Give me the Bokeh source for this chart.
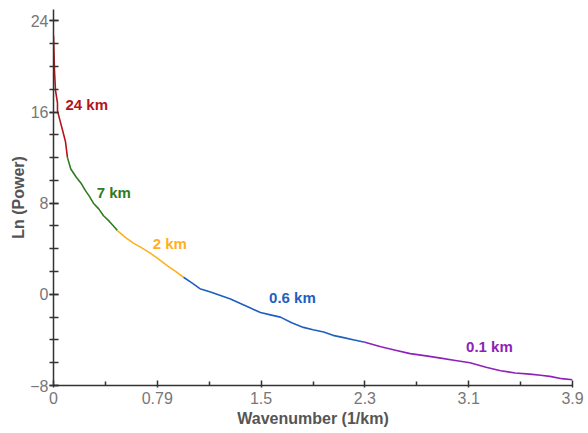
from bokeh.plotting import figure
from bokeh.models import FixedTicker, Label, Range1d
from bokeh.embed import file_html
from bokeh.resources import INLINE

# ---- data ----
seg_names = ["24 km", "7 km", "2 km", "0.6 km", "0.1 km"]
seg_colors = ["#b3151b", "#2e7d1f", "#ffb020", "#1f5fc0", "#8e22b8"]

x_red = [0.0, 0.004, 0.0075, 0.015, 0.03, 0.03, 0.05, 0.068, 0.09, 0.105]
y_red = [22.7, 21.0, 19.6, 17.9, 16.8, 16.1, 15.2, 14.4, 13.4, 12.0]
x_green = [0.105, 0.13, 0.17, 0.21, 0.24, 0.27, 0.30, 0.34, 0.376, 0.42, 0.466, 0.48]
y_green = [12.0, 11.0, 10.3, 9.7, 9.1, 8.6, 8.0, 7.5, 6.9, 6.4, 5.8, 5.6]
x_orange = [0.48, 0.54, 0.60, 0.66, 0.73, 0.79, 0.857, 0.92, 0.977]
y_orange = [5.6, 5.0, 4.5, 4.1, 3.6, 3.1, 2.5, 2.0, 1.5]
x_blue = [0.977, 1.04, 1.10, 1.18, 1.255, 1.33, 1.405, 1.48, 1.555, 1.63, 1.705, 1.79,
          1.878, 1.95, 2.03, 2.10, 2.18, 2.26, 2.34]
y_blue = [1.5, 1.0, 0.5, 0.2, -0.1, -0.4, -0.8, -1.2, -1.6, -1.8, -2.0, -2.5,
          -2.9, -3.1, -3.3, -3.6, -3.8, -4.0, -4.2]
x_purple = [2.34, 2.40, 2.46, 2.57, 2.68, 2.80, 2.91, 3.02, 3.13, 3.25, 3.36, 3.47,
            3.58, 3.66, 3.73, 3.82, 3.90]
y_purple = [-4.2, -4.4, -4.6, -4.9, -5.2, -5.4, -5.6, -5.8, -6.0, -6.4, -6.7, -6.9,
            -7.0, -7.1, -7.2, -7.4, -7.5]

x_ticks = [0, 0.78, 1.56, 2.34, 3.12, 3.9]
x_tick_labels = ["0", "0.79", "1.5", "2.3", "3.1", "3.9"]
y_ticks = [-8, 0, 8, 16, 24]

# label anchor positions (data coords)
label_x = [0.09, 0.325, 0.745, 1.62, 3.1]
label_y = [16.7, 8.9, 4.5, -0.3, -4.6]

segments = [(x_red, y_red), (x_green, y_green), (x_orange, y_orange),
            (x_blue, y_blue), (x_purple, y_purple)]

p = figure(width=588, height=433, output_backend="svg", toolbar_location=None,
           x_range=Range1d(0, 3.9), y_range=Range1d(-8, 25))
p.min_border_left = 53
p.min_border_right = 16
p.min_border_top = 9
p.min_border_bottom = 48
p.outline_line_color = None
p.grid.visible = False
p.background_fill_color = "white"
p.border_fill_color = "white"

for (xs, ys), c in zip(segments, seg_colors):
    p.line(xs, ys, line_color=c, line_width=1.6)

for name, c, lx, ly in zip(seg_names, seg_colors, label_x, label_y):
    p.add_layout(Label(x=lx, y=ly, text=name, text_color=c, text_font_size="15px",
                       text_font_style="bold", text_font="Liberation Sans",
                       text_baseline="middle", text_align="left"))

minor_x = [(a + b) / 2 for a, b in zip(x_ticks[:-1], x_ticks[1:])]
p.xaxis.ticker = FixedTicker(ticks=x_ticks, minor_ticks=minor_x)
p.xaxis.major_label_overrides = {t: l for t, l in zip(x_ticks, x_tick_labels)}
p.yaxis.ticker = FixedTicker(ticks=y_ticks, minor_ticks=list(range(-8, 25, 2)))

for ax in (p.xaxis, p.yaxis):
    ax.axis_line_color = "#333333"
    ax.axis_line_width = 1.5
    ax.major_tick_line_color = "#333333"
    ax.minor_tick_line_color = "#333333"
    ax.major_tick_line_width = 1.5
    ax.minor_tick_line_width = 1.5
    ax.major_label_text_color = "#777777"
    ax.major_label_text_font = "Liberation Sans"
    ax.major_label_text_font_size = "16px"
    ax.axis_label_text_color = "#555555"
    ax.axis_label_text_font = "Liberation Sans"
    ax.axis_label_text_font_size = "16px"
    ax.axis_label_text_font_style = "bold"

p.xaxis.major_tick_in = 5
p.xaxis.major_tick_out = 2
p.xaxis.minor_tick_in = 4
p.xaxis.minor_tick_out = 0
p.yaxis.major_tick_in = 5
p.yaxis.major_tick_out = 4
p.yaxis.minor_tick_in = 5
p.yaxis.minor_tick_out = 4
p.xaxis.major_label_standoff = 4
p.yaxis.major_label_standoff = 1
p.xaxis.axis_label = "Wavenumber (1/km)"
p.yaxis.axis_label = "Ln (Power)"
p.xaxis.axis_label_standoff = 3
p.yaxis.axis_label_standoff = 0

open("out.html", "w").write(file_html(p, INLINE))
